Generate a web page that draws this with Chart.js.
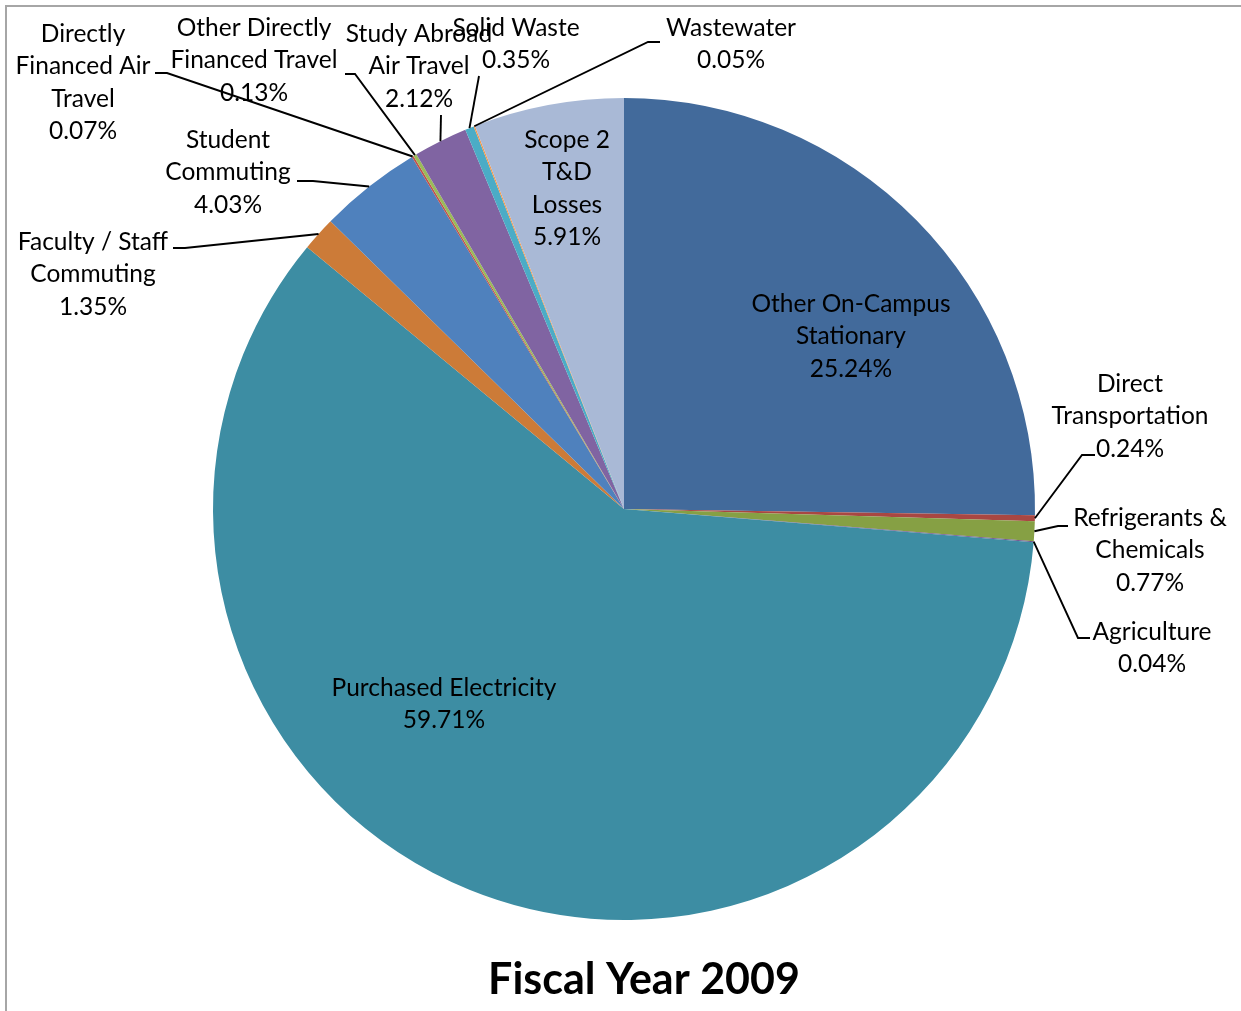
<!DOCTYPE html>
<html>
<head>
<meta charset="utf-8">
<script src="https://cdn.jsdelivr.net/npm/chart.js@4"></script>
<style>
  html, body { margin: 0; padding: 0; background: #fff; }
  #wrap { position: relative; width: 1241px; height: 1011px; overflow: hidden; }
  #frame { position: absolute; left: 5px; top: 5px; right: -10px; bottom: -10px;
           border-top: 2px solid #a6a6a6; border-left: 2px solid #a6a6a6; }
  canvas { position: absolute; left: 0; top: 0; }
</style>
</head>
<body>
<div id="wrap">
  <div id="frame"></div>
  <canvas id="chart"></canvas>
</div>
<script>
const title = 'Fiscal Year 2009'

const categories = [
  'Other On-Campus Stationary',
  'Direct Transportation',
  'Refrigerants & Chemicals',
  'Agriculture',
  'Purchased Electricity',
  'Faculty / Staff Commuting',
  'Student Commuting',
  'Directly Financed Air Travel',
  'Other Directly Financed Travel',
  'Study Abroad Air Travel',
  'Solid Waste',
  'Wastewater',
  'Scope 2 T&D Losses'
]

const shares = [25.24, 0.24, 0.77, 0.04, 59.71, 1.35, 4.03, 0.07, 0.13, 2.12, 0.35, 0.05, 5.91]

const sliceColors = [
  '#426a9b', '#a94742', '#86a044', '#6e548d', '#3d8da3', '#cc7b38', '#4f81bd',
  '#c0504d', '#9bbb59', '#8064a2', '#4bacc6', '#f79646', '#a9b9d6'
]

// wrapped label text, one entry per category
const labelLines = [
  ['Other On-Campus', 'Stationary'],
  ['Direct', 'Transportation'],
  ['Refrigerants &', 'Chemicals'],
  ['Agriculture'],
  ['Purchased Electricity'],
  ['Faculty / Staff', 'Commuting'],
  ['Student', 'Commuting'],
  ['Directly', 'Financed Air', 'Travel'],
  ['Other Directly', 'Financed Travel'],
  ['Study Abroad', 'Air Travel'],
  ['Solid Waste'],
  ['Wastewater'],
  ['Scope 2', 'T&D', 'Losses']
]

// label placement: text centre x, first line y, leader line points (from label side)
const labelPlace = [
  { x: 851, y: 304, leader: null },
  { x: 1130, y: 384, leader: [[1095, 455], [1082, 455]] },
  { x: 1150, y: 518, leader: [[1068, 526], [1058, 526]] },
  { x: 1152, y: 632, leader: [[1090, 638], [1078, 638]] },
  { x: 444, y: 688, leader: null },
  { x: 93, y: 242, leader: [[173, 248], [185, 248]] },
  { x: 228, y: 140, leader: [[297, 181], [313, 181]] },
  { x: 83, y: 34, leader: [[155, 73], [167, 73]] },
  { x: 254, y: 28, leader: [[345, 74], [355, 74]] },
  { x: 419, y: 34, leader: [[441, 115]] },
  { x: 516, y: 28, leader: [[479, 76]] },
  { x: 731, y: 28, leader: [[660, 42], [648, 42]] },
  { x: 567, y: 140, leader: null }
]

const LINE_H = 32.5
const FONT = '24.5px Lato, "Open Sans", sans-serif'

const pieLabels = {
  id: 'pieLabels',
  afterDatasetsDraw(chart) {
    const ctx = chart.ctx
    const arcs = chart.getDatasetMeta(0).data
    ctx.save()
    ctx.font = FONT
    ctx.fillStyle = '#000'
    ctx.textAlign = 'center'
    ctx.textBaseline = 'middle'
    labelPlace.forEach((p, i) => {
      const lines = labelLines[i].concat([shares[i].toFixed(2) + '%'])
      lines.forEach((t, k) => ctx.fillText(t, p.x, p.y + k * LINE_H))
    })

    // leader lines from the slice edge to the label
    ctx.strokeStyle = '#000'
    ctx.lineWidth = 1.9
    labelPlace.forEach((p, i) => {
      if (!p.leader) return
      const a = arcs[i].getProps(['x', 'y', 'startAngle', 'endAngle', 'outerRadius'], true)
      const mid = (a.startAngle + a.endAngle) / 2
      ctx.beginPath()
      ctx.moveTo(p.leader[0][0], p.leader[0][1])
      p.leader.slice(1).forEach(pt => ctx.lineTo(pt[0], pt[1]))
      ctx.lineTo(a.x + Math.cos(mid) * a.outerRadius, a.y + Math.sin(mid) * a.outerRadius)
      ctx.stroke()
    })

    ctx.font = 'bold 43px Lato, "Open Sans", sans-serif'
    ctx.fillText(title, 644, 980)
    ctx.restore()
  }
}

new Chart(document.getElementById('chart'), {
  type: 'pie',
  data: {
    labels: categories,
    datasets: [{
      data: shares,
      backgroundColor: sliceColors,
      borderWidth: 0,
      hoverOffset: 0,
      offset: 0
    }]
  },
  options: {
    responsive: true,
    maintainAspectRatio: false,
    animation: false,
    events: [],
    layout: { padding: { left: 213, right: 206, top: 98, bottom: 91 } },
    plugins: {
      legend: { display: false },
      tooltip: { enabled: false },
      title: { display: false }
    }
  },
  plugins: [pieLabels]
})
</script>
</body>
</html>
